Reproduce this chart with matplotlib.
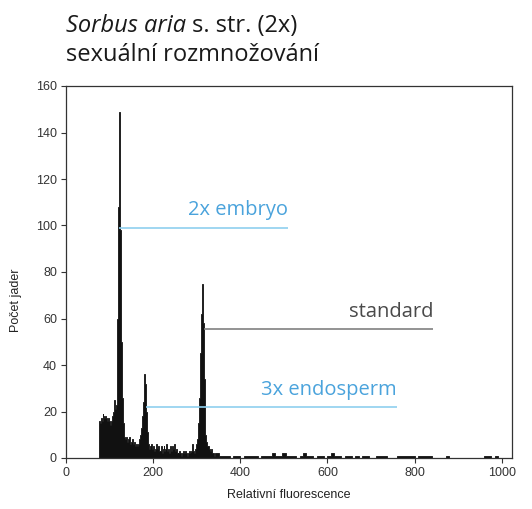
import numpy as np
import matplotlib
matplotlib.use("Agg")
import matplotlib.pyplot as plt

# Flow-cytometry histogram: nuclei counts per fluorescence channel
fine_start, fine_step = 76, 2
fine_counts = [
    16, 15, 17, 16, 19, 18, 17, 18, 17, 16, 17, 16, 15, 14, 16, 18, 20,
    25, 21, 23, 34, 60, 108, 149, 98, 50, 26, 15, 11, 9, 8, 9, 7, 8, 9,
    7, 6, 7, 8, 6, 7, 5, 6, 5, 5, 6, 8, 10, 13, 18, 24, 30, 36, 32, 20,
    11, 6, 4, 5, 3, 6, 4, 5, 3, 4, 6, 3, 4, 5, 3, 3, 5, 2, 4, 5, 3, 4,
    6, 3, 4, 2, 5, 4, 3, 5, 4, 6, 3, 4, 2, 1, 2, 3, 2, 1, 2, 3, 2, 2, 3,
    2, 1, 2, 3, 2, 1, 3, 6, 3, 2, 4, 6, 8, 10, 15, 26, 45, 62, 75, 58,
    34, 17, 10, 7, 5, 5, 4, 3, 4, 3, 2, 2, 1, 2,
]
tail_start, tail_step = 344, 8
tail_counts = [
    2, 1, 1, 1, 0, 1, 1, 0, 1, 1, 1, 1, 0, 1, 1, 1, 2, 1, 1, 2,
    1, 1, 1, 0, 1, 2, 1, 1, 0, 1, 1, 0, 1, 2, 1, 1, 0, 1, 1, 0,
    1, 0, 1, 1, 0, 0, 1, 1, 1, 0, 0, 0, 1, 1, 1, 1, 1, 0, 1, 1,
    1, 1, 0, 0, 0, 0, 1, 0, 0, 0, 0, 0, 0, 0, 0, 0, 0, 1, 1, 0,
    1, 0, 0, 0, 0,
]

x_ticks = [0, 200, 400, 600, 800, 1000]
y_ticks = [0, 20, 40, 60, 80, 100, 120, 140, 160]
x_max, y_max = 1023, 160

# Peak annotations: (text, line y, line x start, line x end, colour, line colour)
annotations = [
    ("2x embryo", 99, 122, 510, "#4aa3dc", "#8fd0ef"),
    ("standard", 55.3, 316, 843, "#4a4a4a", "#808080"),
    ("3x endosperm", 21.8, 184, 759, "#4aa3dc", "#8fd0ef"),
]

# Step outline over all bins (fine region followed by the coarser tail)
fine_edges = fine_start + fine_step * np.arange(len(fine_counts) + 1)
tail_edges = tail_start + tail_step * np.arange(len(tail_counts) + 1)
edges = np.concatenate([fine_edges[:-1], tail_edges])
heights = np.array(fine_counts + tail_counts + [0], dtype=float)

W, H, DPI = 532, 509, 100
fig = plt.figure(figsize=(W / DPI, H / DPI), dpi=DPI)
ax = fig.add_axes([66 / W, 1 - 458 / H, (511.7 - 66) / W, (458 - 86) / H])

ax.fill_between(edges, heights, 0, step="post", facecolor="#111111",
                edgecolor="#111111", linewidth=0.6, antialiased=False)

ax.set_xlim(0, x_max)
ax.set_ylim(0, y_max)
ax.set_xticks(x_ticks)
ax.set_yticks(y_ticks)

tick_font = dict(family="Liberation Sans", size=9)
ax.tick_params(direction="out", length=3.5, width=0.8, colors="#333333",
               labelsize=9, pad=3)
for lab in ax.get_xticklabels() + ax.get_yticklabels():
    lab.set_fontfamily("Liberation Sans")
for sp in ax.spines.values():
    sp.set_color("#333333")
    sp.set_linewidth(0.9)

ax.set_xlabel("Relativní fluorescence", fontdict=tick_font, color="#222222",
              labelpad=7)
fig.text(16 / W, 1 - 300 / H, "Počet jader", rotation=90, ha="center",
         va="center", fontfamily="Liberation Sans", fontsize=9, color="#222222")

label_font = "Open Sans"
for text, ly, x0, x1, tcol, lcol in annotations:
    ax.plot([x0, x1], [ly, ly], color=lcol, linewidth=1.2, solid_capstyle="butt")
    ax.text(x1, ly + 5.4, text, ha="right", va="baseline", fontsize=14.5,
            fontfamily=label_font, color=tcol)

# Two-line title with italic taxon name
title_size = 17
tx, ty1, ty2 = 66 / W, 1 - 32 / H, 1 - 61 / H
t_it = fig.text(tx, ty1, "Sorbus aria", fontsize=title_size, style="italic",
                fontfamily=label_font, color="#1a1a1a", va="baseline")
renderer = fig.canvas.get_renderer()
bb = t_it.get_window_extent(renderer)
fig.text(bb.x1 / W, ty1, " s. str. (2x)", fontsize=title_size,
         fontfamily=label_font, color="#1a1a1a", va="baseline")
fig.text(tx, ty2, "sexuální rozmnožování", fontsize=title_size,
         fontfamily=label_font, color="#1a1a1a", va="baseline")

fig.savefig("out.png", dpi=DPI)
